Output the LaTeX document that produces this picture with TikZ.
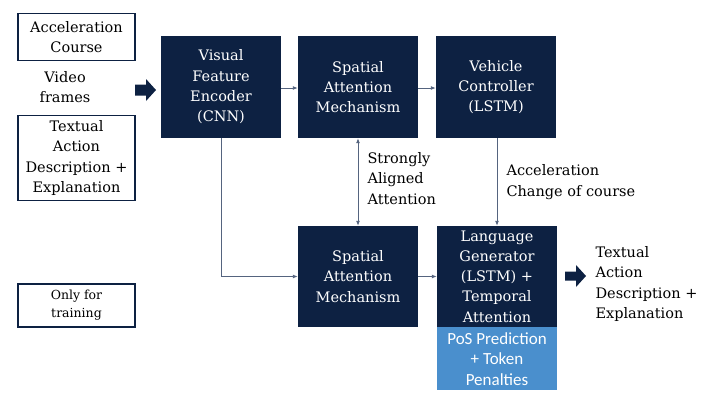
\documentclass[tikz,border=0pt]{standalone}
\usepackage{fontspec}
\setmainfont{DejaVu Serif}
\newfontfamily\posfont{Carlito}
\usetikzlibrary{arrows.meta}
\definecolor{navy}{HTML}{0D2142}
\definecolor{posblue}{HTML}{4A8FCD}
\definecolor{linecol}{HTML}{55647F}
\begin{document}
\begin{tikzpicture}[x=1pt,y=-1pt,
  every node/.style={font=\rmfamily\fontsize{14.5}{20.3}\selectfont, align=center},
  darkbox/.style={fill=navy, text=white, inner sep=0pt},
  whitebox/.style={draw=navy, line width=1.3pt, fill=white, inner sep=0pt},
  conn/.style={draw=linecol, line width=0.9pt, -{Latex[length=5pt,width=4pt]}},
  bigarrow/.style={fill=navy, draw=none}]
\useasboundingbox (0,0) rectangle (720,408);
% left white boxes
\node[whitebox, minimum width=117pt, minimum height=47pt] (acc) at (76.5,37) {Acceleration\\Course};
\node (video) at (65,87) {Video\\frames};
\node[whitebox, minimum width=117pt, minimum height=85pt] (txtin) at (76.5,158) {Textual\\Action\\Description +\\Explanation};
\node[whitebox, minimum width=117pt, minimum height=43pt, font=\rmfamily\fontsize{12.5}{18}\selectfont] (train) at (76.5,305.5) {Only for\\training};
% big input arrow
\fill[bigarrow] (135,84.5) -- (146,84.5) -- (146,79) -- (156,90) -- (146,101) -- (146,95.5) -- (135,95.5) -- cycle;
% dark boxes
\node[darkbox, minimum width=120pt, minimum height=102pt] (cnn) at (221,87) {Visual\\Feature\\Encoder\\(CNN)};
\node[darkbox, minimum width=120pt, minimum height=102pt] (sat) at (358,87) {Spatial\\Attention\\Mechanism};
\node[darkbox, minimum width=120pt, minimum height=102pt] (veh) at (496,87) {Vehicle\\Controller\\(LSTM)};
\node[darkbox, minimum width=120pt, minimum height=101pt] (sab) at (358,276.5) {Spatial\\Attention\\Mechanism};
\node[darkbox, minimum width=120pt, minimum height=101pt] (lang) at (497,276.5) {Language\\Generator\\(LSTM) +\\Temporal\\Attention};
\node[fill=posblue, text=white, inner sep=0pt, minimum width=120pt, minimum height=63pt, anchor=north, font=\posfont\fontsize{17}{20.5}\selectfont] (pos) at (lang.south) {PoS Prediction\\+ Token\\Penalties};
% connectors
\draw[conn] (cnn.east |- 0,88) -- (sat.west |- 0,88);
\draw[conn] (sat.east |- 0,88) -- (veh.west |- 0,88);
\draw[conn] (cnn.south) |- (sab.west);
\draw[conn] (sab.east) -- (lang.west);
\draw[conn, {Latex[length=5pt,width=4pt]}-{Latex[length=5pt,width=4pt]}] (sat.south) -- (sab.north);
\coordinate (vs) at ([xshift=1pt]veh.south);
\draw[conn] (vs) -- (vs |- lang.north);
% labels
\node[anchor=west, align=left] (sal) at (364,178.5) {Strongly\\Aligned\\Attention};
\node[anchor=west, align=left] (accl) at (503,182) {Acceleration\\Change of course};
% output arrow
\fill[bigarrow] (565,271.5) -- (576,271.5) -- (576,265) -- (586,276) -- (576,287) -- (576,280.5) -- (565,280.5) -- cycle;
\node[anchor=west, align=left] (txtout) at (592,284) {Textual\\Action\\Description +\\Explanation};
\end{tikzpicture}
\end{document}
